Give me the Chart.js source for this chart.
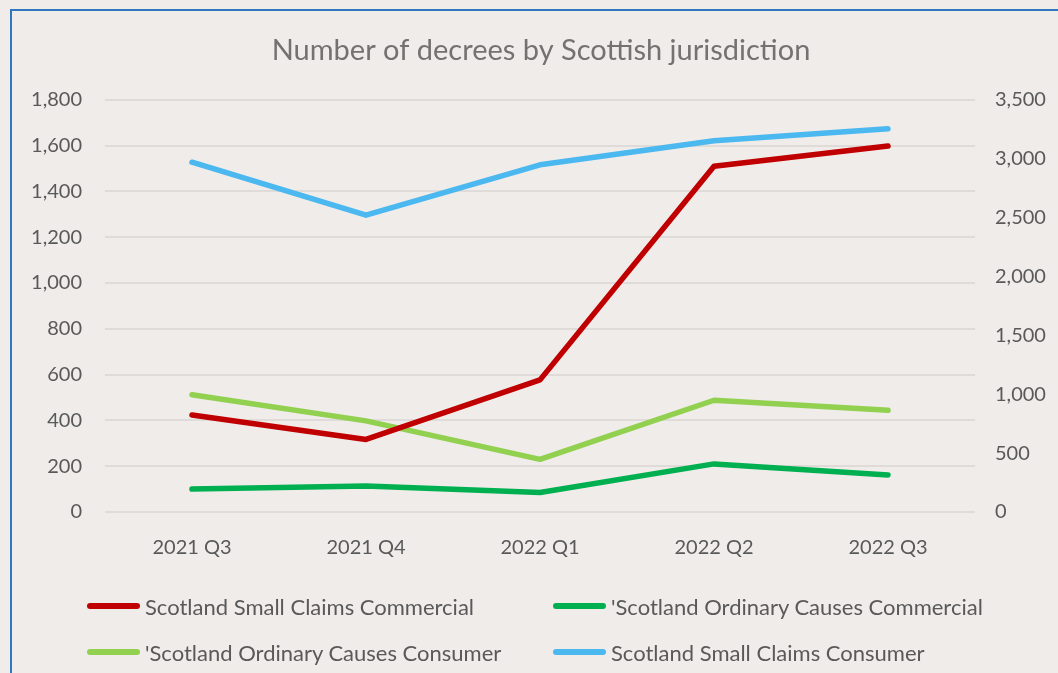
<!DOCTYPE html>
<html>
<head>
<meta charset="utf-8">
<script src="https://cdn.jsdelivr.net/npm/chart.js@4"></script>
<style>
  html, body { margin: 0; padding: 0; width: 1058px; height: 673px; overflow: hidden; background: #efecea; }
  #frame { position: absolute; left: 10px; top: 9px; width: 1100px; height: 700px; border-left: 2px solid #2f78c0; border-top: 2px solid #2f78c0; }
  #wrap { position: absolute; left: 0; top: 0; width: 1058px; height: 673px; }
  #legend { position: absolute; left: 0; top: 0; width: 1058px; height: 673px; pointer-events: none; font-family: Lato, "Open Sans", sans-serif; font-size: 22px; color: #595959; }
  .item { position: absolute; display: flex; align-items: center; height: 30px; white-space: nowrap; }
  .swatch { width: 53px; height: 6px; border-radius: 3px; margin-right: 5px; }
</style>
</head>
<body>
<div id="frame"></div>
<div id="wrap"><canvas id="chartDecrees" width="1058" height="673"></canvas></div>
<div id="legend"></div>
<script>
// Quý (trục hoành)
const quarters = ["2021 Q3", "2021 Q4", "2022 Q1", "2022 Q2", "2022 Q3"];

// Số liệu từng loại án (ước)
const smallClaimsCommercial = [424, 317, 577, 1510, 1598];
const ordinaryCausesCommercial = [100, 114, 85, 210, 162];
const ordinaryCausesConsumer = [512, 398, 230, 488, 444];
const smallClaimsConsumer = [2970, 2520, 2948, 3152, 3254]; // trục phải

const seriesNames = [
    "Scotland Small Claims Commercial",
    "'Scotland Ordinary Causes Commercial",
    "'Scotland Ordinary Causes Consumer",
    "Scotland Small Claims Consumer",
];

const textColor = "#595959";
const gridColor = "#dedbd9";

const ctx = document.getElementById("chartDecrees").getContext("2d");
const chartDecrees = new Chart(ctx, {
    type: "line",
    data: {
        labels: quarters,
        datasets: [
            { label: seriesNames[0], data: smallClaimsCommercial, borderColor: "#c00000", yAxisID: "y" },
            { label: seriesNames[1], data: ordinaryCausesCommercial, borderColor: "#00b050", yAxisID: "y" },
            { label: seriesNames[2], data: ordinaryCausesConsumer, borderColor: "#92d050", yAxisID: "y" },
            { label: seriesNames[3], data: smallClaimsConsumer, borderColor: "#4bb8f0", yAxisID: "y1" },
        ],
    },
    options: {
        responsive: false,
        animation: false,
        layout: { padding: { top: 0, bottom: 97, left: 24, right: 0 } },
        elements: {
            line: { borderWidth: 5.5, tension: 0, borderCapStyle: "round", borderJoinStyle: "round" },
            point: { radius: 0 },
        },
        plugins: {
            legend: { display: false },
            title: {
                display: true,
                text: "Number of decrees by Scottish jurisdiction",
                color: "#757171",
                font: { family: "Lato", size: 29, weight: "normal" },
                padding: { top: 33, bottom: 32 },
            },
            tooltip: { enabled: false },
        },
        scales: {
            x: {
                offset: true,
                grid: { display: false },
                border: { display: false },
                ticks: { color: textColor, font: { family: "Lato", size: 20 }, padding: 16 },
            },
            y: {
                position: "left",
                min: 0,
                max: 1800,
                afterFit: (s) => { s.width = 81; },
                grid: { color: gridColor, lineWidth: 2, drawTicks: false },
                border: { display: false },
                ticks: {
                    stepSize: 200,
                    color: textColor,
                    font: { family: "Lato", size: 20 },
                    padding: 23,
                    callback: (v) => v.toLocaleString("en-US"),
                },
            },
            y1: {
                position: "right",
                min: 0,
                max: 3500,
                afterFit: (s) => { s.width = 83; },
                grid: { display: false, drawTicks: false },
                border: { display: false },
                ticks: {
                    stepSize: 500,
                    color: textColor,
                    font: { family: "Lato", size: 20 },
                    padding: 20,
                    callback: (v) => v.toLocaleString("en-US"),
                },
            },
        },
    },
});

// Chú thích dạng lưới 2 cột
const legendBox = document.getElementById("legend");
const legendSpots = [[87, 606], [553, 606], [87, 652], [553, 652]];
chartDecrees.data.datasets.forEach((ds, i) => {
    const item = document.createElement("div");
    item.className = "item";
    item.style.left = legendSpots[i][0] + "px";
    item.style.top = (legendSpots[i][1] - 15) + "px";
    const sw = document.createElement("span");
    sw.className = "swatch";
    sw.style.background = ds.borderColor;
    const tx = document.createElement("span");
    tx.textContent = ds.label;
    item.appendChild(sw);
    item.appendChild(tx);
    legendBox.appendChild(item);
});
</script>
</body>
</html>
